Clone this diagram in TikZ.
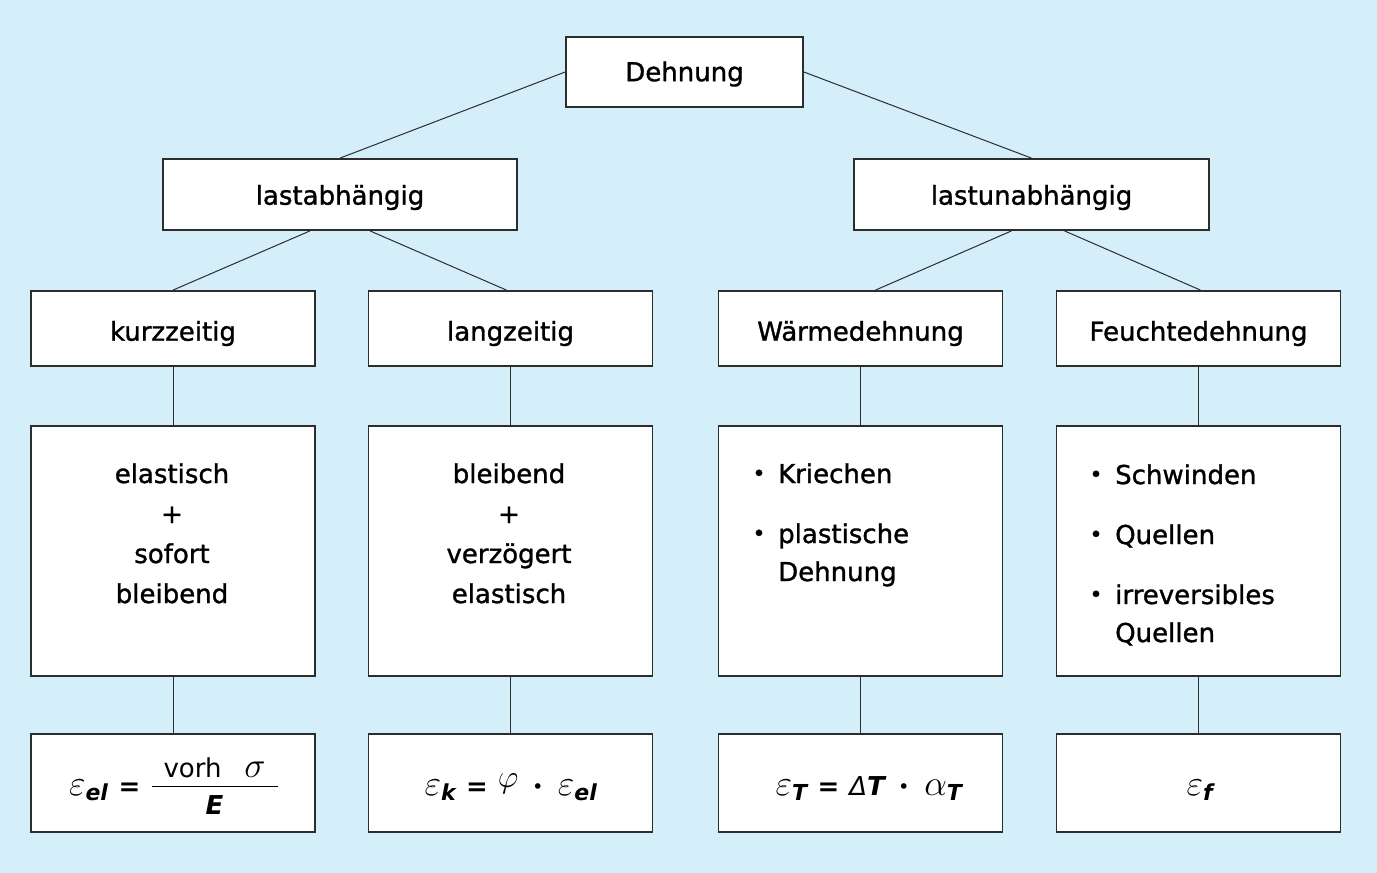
\RequirePackage{fix-cm}
\documentclass[tikz,border=0pt]{standalone}
\usepackage{amsmath}
\usepackage{fontspec}
\setmainfont{DejaVu Sans}
\newfontfamily\medium{DejaVu Sans}[FakeBold=1.2]
\definecolor{bgblue}{RGB}{212,238,250}
\definecolor{linegray}{RGB}{45,45,45}
\newcommand\sbi[1]{\text{\fontsize{22}{22}\selectfont\bfseries\itshape #1}}
\newcommand\tx[1]{\text{\fontsize{26}{26}\selectfont #1}}
\newcommand\eqsign{\text{\fontsize{26}{26}\selectfont\bfseries =}}
\newcommand\smallphi{\raisebox{8pt}{\fontsize{32}{32}\selectfont$\varphi$}}
\begin{document}
\begin{tikzpicture}[x=1pt,y=-1pt,
  box/.style={draw=linegray,line width=1.8pt,fill=white,inner sep=0pt},
  lbl/.style={font=\medium\fontsize{26}{30}\selectfont,inner sep=0pt},
  conn/.style={draw=linegray,line width=1pt},
  txt/.style={font=\medium\fontsize{26}{40}\selectfont,inner sep=0pt,anchor=base west},
  ctxt/.style={font=\medium\fontsize{26}{40}\selectfont,inner sep=0pt,anchor=base},
  bul/.style={font=\medium\fontsize{22}{24}\selectfont,inner sep=0pt,anchor=base},
  frm/.style={font=\fontsize{36}{40}\selectfont,inner sep=0pt,anchor=base}]
\fill[bgblue] (0,0) rectangle (1377,873);
\useasboundingbox (0,0) rectangle (1377,873);
% level 0/1
\node[box,minimum width=237,minimum height=70] (d) at (684.5,72) {};
\node[lbl] at ([yshift=-2]d.center) {Dehnung};
\node[box,minimum width=354,minimum height=71] (la) at (340,194.5) {};
\node[lbl] at ([yshift=-3]la.center) {lastabhängig};
\node[box,minimum width=355,minimum height=71] (lu) at (1031.5,194.5) {};
\node[lbl] at ([yshift=-3]lu.center) {lastunabhängig};
% level 2
\foreach \n/\x/\t in {k/173/kurzzeitig, l/510.5/langzeitig, w/860.5/Wärmedehnung, f/1198.5/Feuchtedehnung}{
  \node[box,minimum width=284,minimum height=75] (\n2) at (\x,328.5) {};
  \node[lbl] at ([yshift=-5]\n2.center) {\t};
  \node[box,minimum width=284,minimum height=250] (\n3) at (\x,551) {};
  \node[box,minimum width=284,minimum height=98] (\n4) at (\x,783) {};
}
% connectors
\draw[conn] (d.west) -- (la.north);
\draw[conn] (d.east) -- (lu.north);
\draw[conn] ([xshift=-30]la.south) -- (k2.north);
\draw[conn] ([xshift=30]la.south) -- ([xshift=-4]l2.north);
\draw[conn] ([xshift=-20]lu.south) -- ([xshift=15]w2.north);
\draw[conn] ([xshift=33]lu.south) -- ([xshift=2]f2.north);
\foreach \n in {k,l,w,f}{
  \draw[conn] (\n2.south) -- (\n3.north);
  \draw[conn] (\n3.south) -- (\n4.north);
}
% level 3 texts
\node[ctxt] at (172,483) {elastisch};
\node[ctxt] at (172,523) {+};
\node[ctxt] at (172,563) {sofort};
\node[ctxt] at (172,603) {bleibend};
\node[ctxt] at (509,483) {bleibend};
\node[ctxt] at (509,523) {+};
\node[ctxt] at (509,563) {verzögert};
\node[ctxt] at (509,603) {elastisch};
\node[bul] at (759,481) {•};
\node[txt] at (778,483) {Kriechen};
\node[bul] at (759,541) {•};
\node[txt] at (778,543) {plastische};
\node[txt] at (778,581) {Dehnung};
\node[bul] at (1096,482) {•};
\node[txt] at (1115,484) {Schwinden};
\node[bul] at (1096,542) {•};
\node[txt] at (1115,544) {Quellen};
\node[bul] at (1096,602) {•};
\node[txt] at (1115,604) {irreversibles};
\node[txt] at (1115,642) {Quellen};
% formulas
\node[frm] (fk) at (174,795) {$\varepsilon_{\sbi{el}}\;\eqsign\;\dfrac{\smash{\raisebox{-7pt}{$\hspace{12pt}\tx{vorh}\ \ \displaystyle\sigma\hspace{12pt}$}}}{\smash{\raisebox{5pt}{\tx{\bfseries\itshape E}}}}$};
\node[frm] (fl) at (511,795) {$\varepsilon_{\sbi{k}}\;\eqsign\;\smallphi\,\boldsymbol{\cdot}\,\varepsilon_{\sbi{el}}$};
\node[frm] (fw) at (869,795) {$\varepsilon_{\sbi{T}}\;\eqsign\;\tx{\itshape Δ}\tx{\bfseries\itshape T}\,\boldsymbol{\cdot}\,\alpha_{\sbi{T}}$};
\node[frm] (ff) at (1200,795) {$\varepsilon_{\sbi{f}}$};
\end{tikzpicture}
\end{document}
